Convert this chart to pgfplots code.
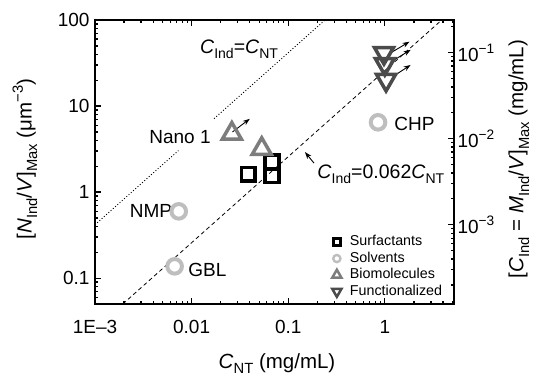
\documentclass[border=0pt]{standalone}
\usepackage{fontspec}
\setmainfont{Liberation Sans}
\usepackage{graphicx}
\usepackage{pgfplots}
\pgfplotsset{compat=1.18}
\usetikzlibrary{arrows.meta}
\definecolor{solv}{RGB}{190,190,190}
\definecolor{bio}{RGB}{125,125,125}
\definecolor{func}{RGB}{75,75,75}
\newcommand\subr[1]{\raisebox{-0.28em}{\scalebox{0.72}{#1}}}
\newcommand\supr[1]{\raisebox{0.42em}{\scalebox{0.72}{#1}}}
\begin{document}
\begin{tikzpicture}
\begin{axis}[
  at={(0pt,0pt)}, anchor=south west,
  scale only axis, width=359pt, height=284pt,
  xmode=log, ymode=log,
  xmin=1e-3, xmax=5.2, ymin=0.05, ymax=100,
  axis line style={line width=1.6pt},
  tick style={line width=1.2pt, black},
  tick align=inside,
  major tick length=6pt, minor tick length=3.5pt,
  xtick={0.001,0.01,0.1,1}, xticklabels={1E–3,0.01,0.1,1},
  minor xtick={0.002,0.003,0.004,0.005,0.006,0.007,0.008,0.009,0.02,0.03,0.04,0.05,0.06,0.07,0.08,0.09,0.2,0.3,0.4,0.5,0.6,0.7,0.8,0.9,2,3,4,5},
  ytick={0.1,1,10,100}, yticklabels={0.1,1,10,100},
  minor ytick={0.06,0.07,0.08,0.09,0.2,0.3,0.4,0.5,0.6,0.7,0.8,0.9,2,3,4,5,6,7,8,9,20,30,40,50,60,70,80,90},
  xtick pos=both, ytick pos=left,
  ticklabel style={font=\fontsize{19}{21}\selectfont},
  xticklabel style={yshift=-13pt},
  yticklabel style={xshift=-2pt},
  xlabel={\textit{C}\subr{NT} (mg/mL)},
  ylabel={[\textit{N}\subr{Ind}/\textit{V}]\subr{Max} (μm\supr{−3})},
  xlabel style={at={(axis description cs:0.507,-0.21)}, anchor=center},
  ylabel style={at={(axis description cs:-0.195,0.51)}, anchor=center},
  label style={font=\fontsize{20.5}{24}\selectfont},
  legend style={draw=none, fill=none, at={(0.652,0.255)}, anchor=north west,
    font=\fontsize{14.3}{16}\selectfont, row sep=0pt,
    nodes={inner sep=1.5pt, text height=10.5pt, text depth=3pt},
    /tikz/every odd column/.append style={column sep=7pt}},
  legend cell align=left,
]
\addlegendimage{only marks, mark=square, mark size=3.4pt, mark options={line width=2.6pt, black}}
\addlegendentry{Surfactants}
\addlegendimage{only marks, mark=o, mark size=3.6pt, mark options={line width=2.4pt, solv}}
\addlegendentry{Solvents}
\addlegendimage{only marks, mark=triangle, mark size=5.3pt, mark options={line width=2.5pt, bio}}
\addlegendentry{Biomolecules}
\addlegendimage{only marks, mark=triangle, mark size=5.3pt, mark options={line width=2.5pt, func, rotate=180}}
\addlegendentry{Functionalized}

% reference lines
\addplot[forget plot, line width=0.9pt, dash pattern=on 1pt off 2pt] coordinates {(0.001,0.417) (0.0073,3.04)};
\addplot[forget plot, line width=0.9pt, dash pattern=on 1pt off 2pt] coordinates {(0.0171,7.13) (0.24,100)};
\addplot[forget plot, line width=0.8pt, dash pattern=on 4pt off 3pt] coordinates {(0.00194,0.05) (3.88,100)};

% data
\addplot[forget plot, only marks, mark=square, mark size=6.8pt, mark options={line width=3.6pt, black}]
  coordinates {(0.0386,1.61) (0.0678,1.55) (0.0678,2.25)};
\addplot[forget plot, only marks, mark=o, mark size=7.3pt, mark options={line width=4pt, solv}]
  coordinates {(0.00736,0.597) (0.00667,0.137) (0.851,6.47)};
\addplot[forget plot, only marks, mark=triangle, mark size=11pt, mark options={line width=3.5pt, bio}]
  coordinates {(0.0261,4.78) (0.0532,3.18)};
\addplot[forget plot, only marks, mark=triangle, mark size=11pt, mark options={line width=3.5pt, func, rotate=180}]
  coordinates {(0.98,41.3) (1.0,30.8) (1.03,20.1)};

% arrows
\draw[line width=0.9pt, -{Stealth[length=7pt,width=5pt]}] (axis cs:0.0265,5.0) -- (axis cs:0.04,7.1);
\draw[line width=0.9pt, -{Stealth[length=7pt,width=5pt]}] (axis cs:1.13,41) -- (axis cs:1.8,56);
\draw[line width=0.9pt, -{Stealth[length=7pt,width=5pt]}] (axis cs:1.13,32) -- (axis cs:1.85,45);
\draw[line width=0.9pt, -{Stealth[length=7pt,width=5pt]}] (axis cs:1.21,22) -- (axis cs:1.85,30);
\draw[line width=0.9pt, -{Stealth[length=7pt,width=5pt]}] (axis cs:0.185,2.17) -- (axis cs:0.149,2.92);

% labels
\node[font=\fontsize{19.5}{21}\selectfont, inner sep=0pt] at (axis cs:0.031,46) {\textit{C}\subr{Ind}=\textit{C}\subr{NT}};
\node[font=\fontsize{19.5}{21}\selectfont, inner sep=0pt, anchor=west] at (axis cs:0.2,1.6) {\textit{C}\subr{Ind}=0.062\textit{C}\subr{NT}};
\node[font=\fontsize{19}{21}\selectfont, inner sep=0pt, anchor=east] at (axis cs:0.0158,4.4) {Nano 1};
\node[font=\fontsize{19}{21}\selectfont, inner sep=0pt, anchor=east] at (axis cs:0.0063,0.6) {NMP};
\node[font=\fontsize{19}{21}\selectfont, inner sep=0pt, anchor=west] at (axis cs:0.0092,0.125) {GBL};
\node[font=\fontsize{19}{21}\selectfont, inner sep=0pt, anchor=west] at (axis cs:1.25,6.2) {CHP};
\end{axis}
\begin{axis}[
  at={(0pt,0pt)}, anchor=south west,
  scale only axis, width=359pt, height=284pt,
  ymode=log, ymin=1.2e-4, ymax=0.24, xmin=0, xmax=1,
  axis x line=none, axis y line*=right,
  axis line style={line width=1.6pt},
  tick style={line width=1.2pt, black},
  tick align=inside,
  major tick length=6pt, minor tick length=3.5pt,
  ytick={0.001,0.01,0.1}, yticklabels={10\supr{−3},10\supr{−2},10\supr{−1}},
  minor ytick={0.0002,0.0003,0.0004,0.0005,0.0006,0.0007,0.0008,0.0009,0.002,0.003,0.004,0.005,0.006,0.007,0.008,0.009,0.02,0.03,0.04,0.05,0.06,0.07,0.08,0.09,0.2},
  ticklabel style={font=\fontsize{19}{21}\selectfont},
  ylabel={[\textit{C}\subr{Ind} = \textit{M}\subr{Ind}/\textit{V}]\subr{Max} (mg/mL)},
  ylabel style={at={(axis description cs:1.181,0.51)}, anchor=center},
  label style={font=\fontsize{20.5}{24}\selectfont},
]
\end{axis}
\pgfresetboundingbox
\path (-95pt,-72pt) rectangle (439pt,304pt);
\end{tikzpicture}
\end{document}
